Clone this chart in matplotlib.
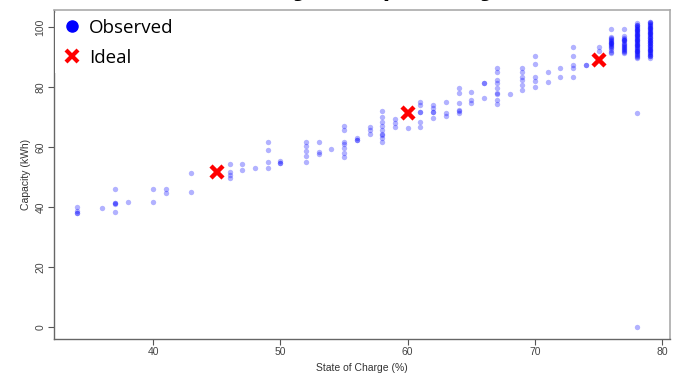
import numpy as np
import matplotlib.pyplot as plt
from matplotlib.lines import Line2D

# observed capacity readings, grouped by state of charge (%)
soc_34 = [39.9, 38.8, 37.9, 37.9]
soc_36 = [39.5]
soc_37 = [46.0, 41.2, 41.2, 41.0, 38.2]
soc_38 = [41.8]
soc_40 = [46.0, 41.8]
soc_41 = [46.0, 44.8]
soc_43 = [51.2, 44.9]
soc_46 = [54.3, 51.8, 50.7, 49.6]
soc_47 = [54.3, 52.3]
soc_48 = [53.0]
soc_49 = [61.8, 58.9, 55.1, 53.1]
soc_50 = [55.2, 54.8, 54.6]
soc_52 = [61.8, 60.3, 58.8, 57.1, 55.1]
soc_53 = [61.8, 58.3, 57.6]
soc_54 = [59.3]
soc_55 = [67.0, 65.7, 61.8, 60.9, 59.6, 57.9, 56.8]
soc_56 = [63.0, 62.2, 62.2]
soc_57 = [66.8, 65.7, 64.3]
soc_58 = [72.1, 69.9, 68.4, 67.0, 65.7, 64.3, 64.0, 62.9, 61.8]
soc_59 = [69.2, 67.9, 66.8]
soc_60 = [66.4]
soc_61 = [75.1, 74.0, 71.8, 71.6, 68.2, 66.8]
soc_62 = [74.0, 72.9, 71.8, 71.6, 69.6]
soc_63 = [75.1, 71.2, 70.3]
soc_64 = [79.6, 77.9, 74.6, 72.3, 72.1, 71.4]
soc_65 = [78.4, 75.7, 74.6]
soc_66 = [81.4, 81.4, 76.4]
soc_67 = [86.2, 85.1, 82.3, 81.2, 79.6, 77.9, 77.6, 75.7, 74.2]
soc_68 = [77.6]
soc_69 = [86.2, 84.9, 83.4, 82.3, 80.7, 79.0]
soc_70 = [90.4, 87.7, 83.4, 82.1, 80.1]
soc_71 = [85.1, 81.6]
soc_72 = [86.2, 83.4]
soc_73 = [93.2, 90.4, 87.3, 86.2, 83.4]
soc_74 = [87.3, 87.3]
soc_75 = [93.2, 92.0]
soc_76 = [99.3, 96.8, 96.2, 95.9, 95.6, 95.1, 94.8, 94.6, 93.9, 93.6,
          93.3, 92.9, 92.2, 91.6, 91.2, 95.3, 94.2]
soc_77 = [99.3, 96.9, 96.4, 95.8, 95.2, 94.8, 94.3, 93.7, 93.1, 92.6,
          92.0, 91.5, 91.2, 96.1, 95.5, 94.0, 93.4, 92.3]
soc_78 = [101.2, 100.8, 100.3, 99.9, 99.4, 99.1, 98.7, 98.2, 97.8, 97.4,
          97.0, 96.6, 96.1, 95.7, 95.3, 94.9, 94.4, 94.1, 93.6, 93.2,
          92.8, 92.3, 91.9, 91.5, 91.0, 90.6, 90.1, 89.6,
          100.6, 99.7, 98.9, 98.0, 97.2, 96.4, 95.5, 94.7, 93.9, 93.0,
          92.1, 91.3, 90.4, 71.2, 0.1]
soc_79 = [101.8, 101.3, 100.9, 100.4, 100.0, 99.6, 99.2, 98.8, 98.3, 97.9,
          97.5, 97.1, 96.6, 96.2, 95.8, 95.4, 94.9, 94.5, 94.1, 93.7,
          93.2, 92.8, 92.4, 91.9, 91.5, 91.1, 90.6, 90.2, 89.6,
          101.5, 100.7, 99.8, 99.0, 98.1, 97.3, 96.4, 95.6, 94.7, 93.9,
          93.0, 92.2, 91.3, 90.4]

observed = {34: soc_34, 36: soc_36, 37: soc_37, 38: soc_38, 40: soc_40,
            41: soc_41, 43: soc_43, 46: soc_46, 47: soc_47, 48: soc_48,
            49: soc_49, 50: soc_50, 52: soc_52, 53: soc_53, 54: soc_54,
            55: soc_55, 56: soc_56, 57: soc_57, 58: soc_58, 59: soc_59,
            60: soc_60, 61: soc_61, 62: soc_62, 63: soc_63, 64: soc_64,
            65: soc_65, 66: soc_66, 67: soc_67, 68: soc_68, 69: soc_69,
            70: soc_70, 71: soc_71, 72: soc_72, 73: soc_73, 74: soc_74,
            75: soc_75, 76: soc_76, 77: soc_77, 78: soc_78, 79: soc_79}

ideal_soc = [45, 60, 75]
ideal_cap = [51.8, 71.2, 89.0]

obs_x = []
obs_y = []
for soc, caps in observed.items():
    obs_x += [soc] * len(caps)
    obs_y += caps

fig = plt.figure(figsize=(6.73, 3.80), dpi=100)
ax = fig.add_axes([0.080, 0.108, 0.9155, 0.866])

ax.scatter(obs_x, obs_y, s=15, color=(0, 0, 1, 0.3), linewidths=0, zorder=2)
ax.plot(ideal_soc, ideal_cap, linestyle='none', marker='x', color='#ff0000',
        markersize=9, markeredgewidth=3.2, zorder=3)

ax.set_xlim(32.2, 80.6)
ax.set_ylim(-4.0, 105.7)
ax.set_xticks([40, 50, 60, 70, 80])
ax.set_yticks([0, 20, 40, 60, 80, 100])
ax.tick_params(direction='out', length=4, width=0.8, color='#555555',
               labelsize=7.5, labelcolor='#444444', pad=2)
for lbl in ax.get_yticklabels():
    lbl.set_rotation(90)
    lbl.set_va('center')
for lbl in ax.get_xticklabels() + ax.get_yticklabels():
    lbl.set_fontfamily('Liberation Sans')

for side in ['left', 'bottom']:
    ax.spines[side].set_color('#666666')
    ax.spines[side].set_linewidth(1.0)
for side in ['top', 'right']:
    ax.spines[side].set_color('#aaaaaa')
    ax.spines[side].set_linewidth(1.2)

ax.set_xlabel('State of Charge (%)', fontsize=7.5, color='#333333',
              family='Liberation Sans', labelpad=4)
ax.set_ylabel('Capacity (kWh)', fontsize=7.5, color='#333333',
              family='Liberation Sans', labelpad=3)

# title sits mostly above the top edge
fig.text(0.497, 1.027, 'Battery Capacity', ha='center', va='baseline',
         fontsize=32, family='Open Sans', color='black')

handles = [Line2D([], [], linestyle='none', marker='o', color='#0000ff',
                  markersize=8),
           Line2D([], [], linestyle='none', marker='x', color='#ff0000',
                  markersize=9, markeredgewidth=3)]
leg = fig.legend(handles, ['Observed', 'Ideal'], loc='upper left',
                 bbox_to_anchor=(0.068, 0.99), frameon=True, fancybox=False,
                 edgecolor='none', facecolor='white', framealpha=1,
                 prop={'family': 'Open Sans', 'size': 13.5},
                 handletextpad=0.3, labelspacing=0.65, handlelength=1.2,
                 borderpad=0.3)

fig.savefig('out.png', dpi=100)
